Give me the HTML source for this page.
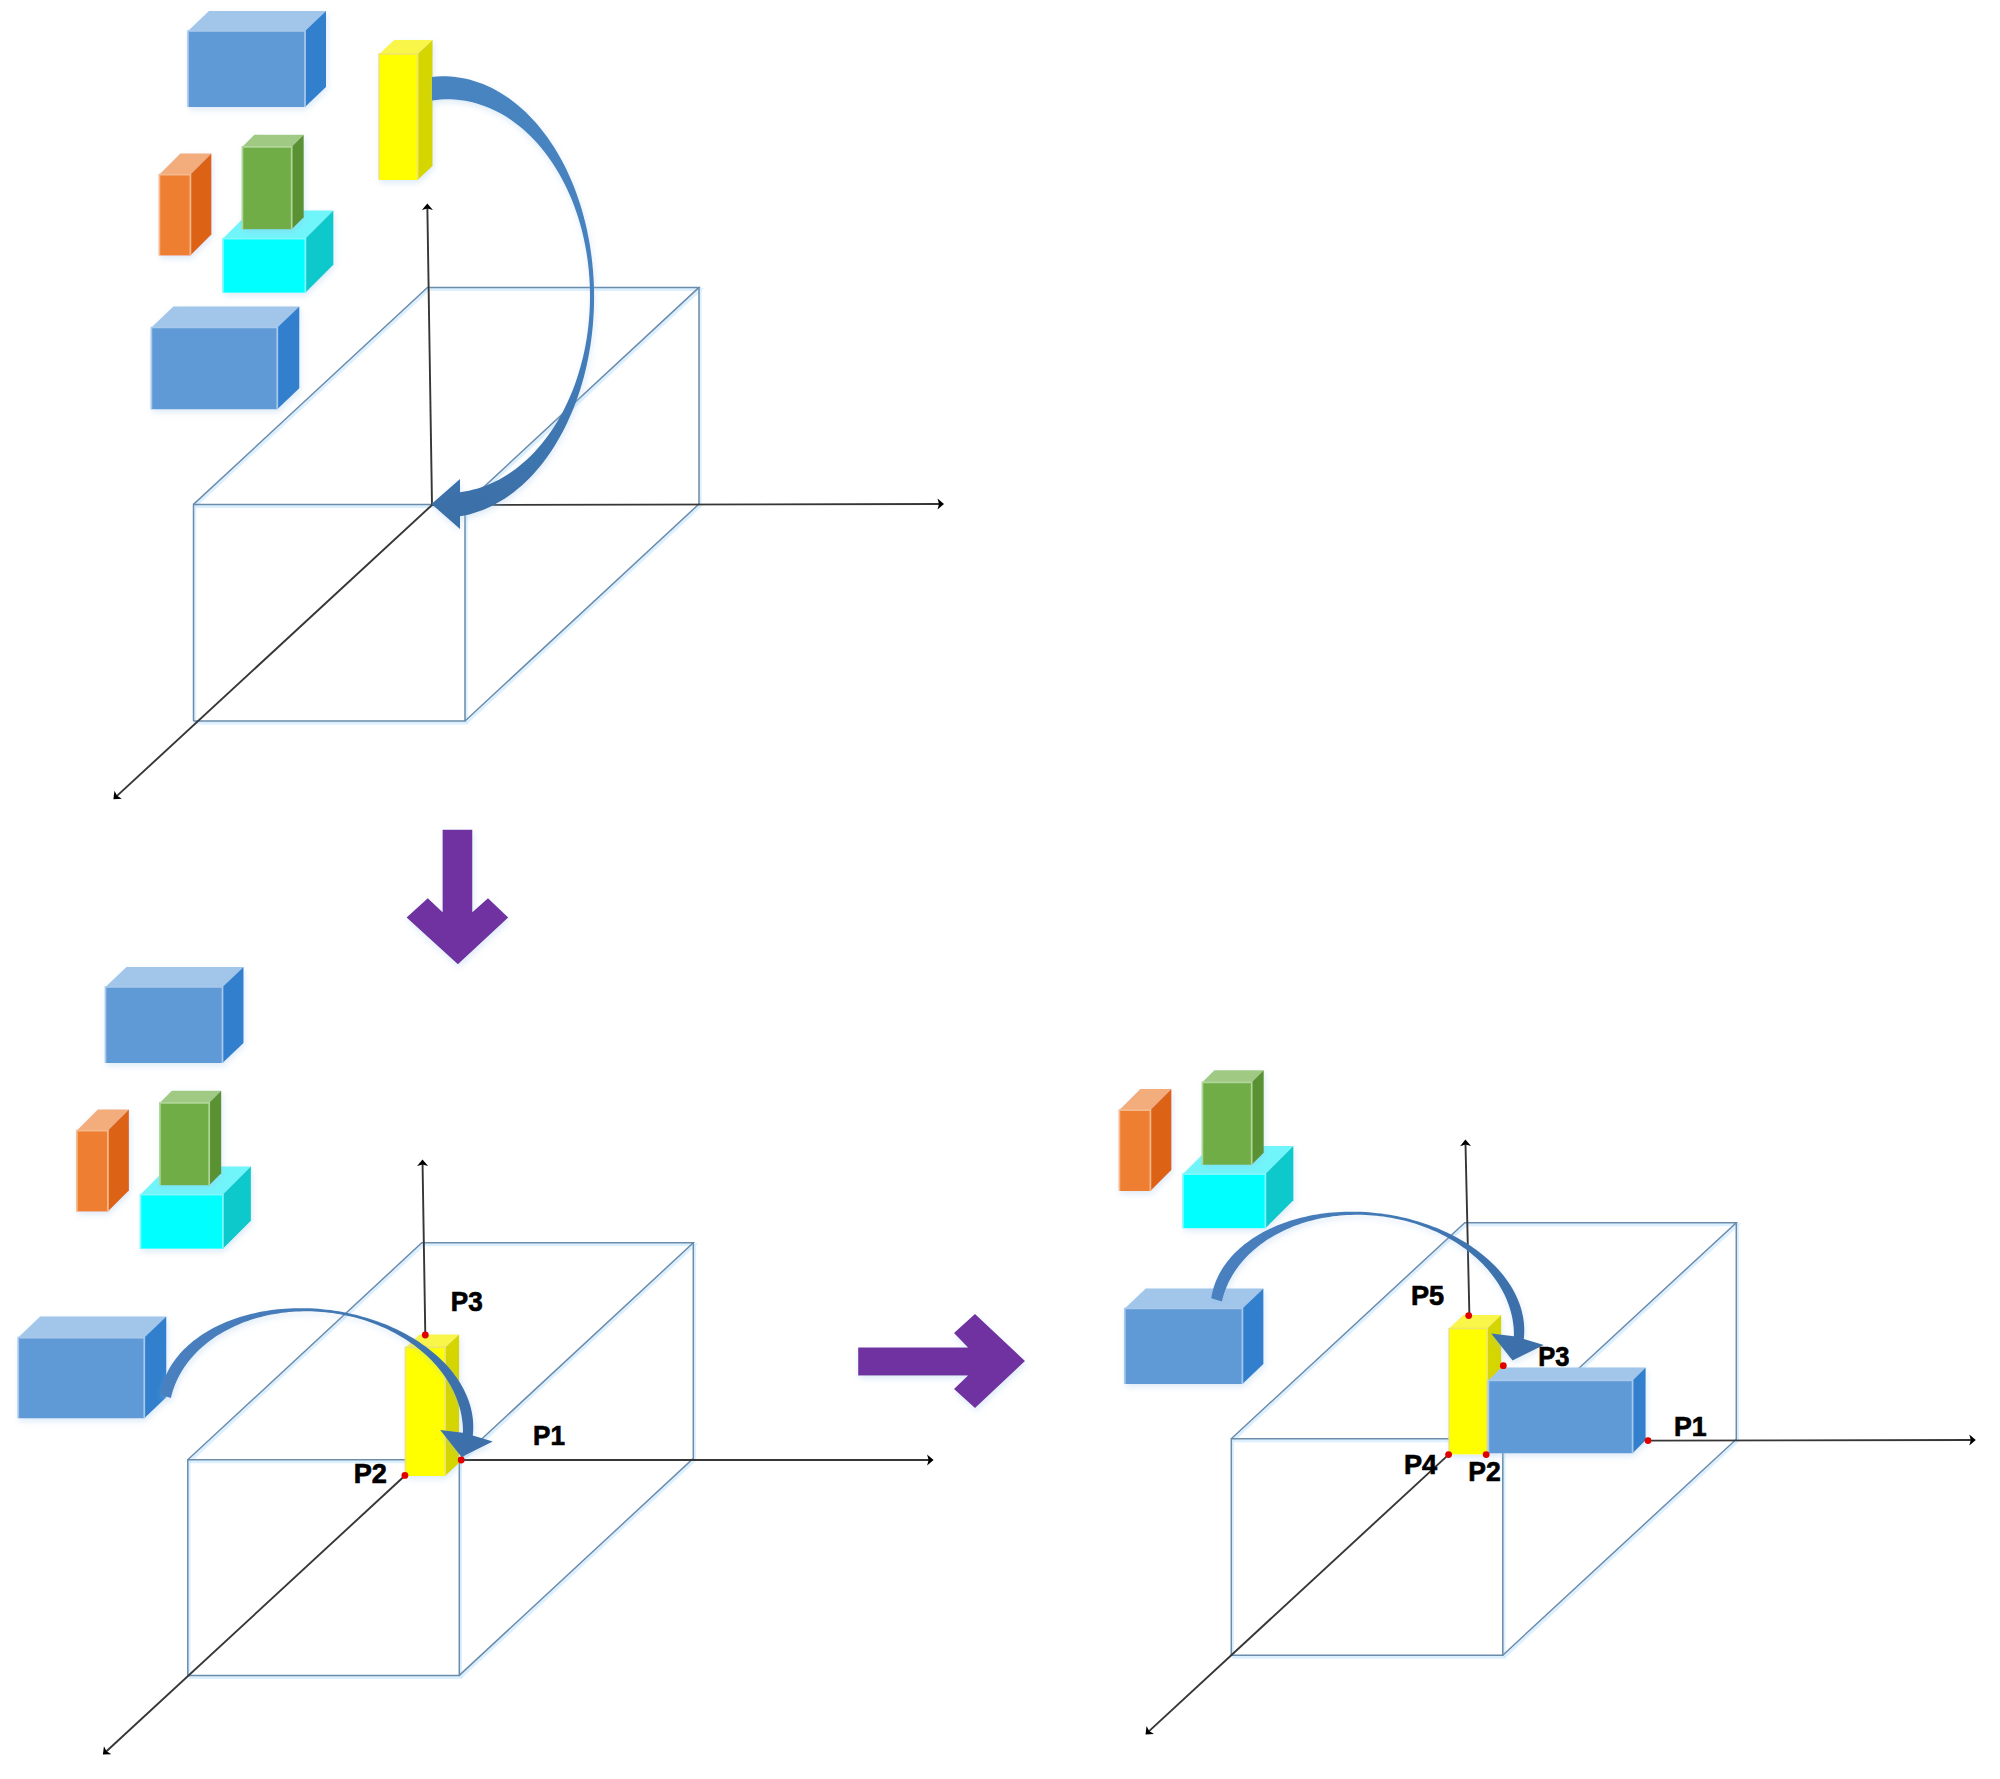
<!DOCTYPE html><html><head><meta charset="utf-8"><style>html,body{margin:0;padding:0;background:#fff;}svg{display:block;}</style></head><body>
<svg width="2000" height="1779" viewBox="0 0 2000 1779">
<defs>
<filter id="sh" x="-20%" y="-20%" width="140%" height="140%">
<feGaussianBlur in="SourceAlpha" stdDeviation="3"/>
<feOffset dx="1" dy="3" result="b"/>
<feFlood flood-color="#9cc3ea" flood-opacity="0.35"/>
<feComposite in2="b" operator="in"/>
<feMerge><feMergeNode/><feMergeNode in="SourceGraphic"/></feMerge>
</filter>
<linearGradient id="gArrTop" x1="0" y1="0" x2="0" y2="1">
<stop offset="0" stop-color="#4784c0"/><stop offset="0.55" stop-color="#4580bd"/><stop offset="1" stop-color="#3a6ea6"/>
</linearGradient>
<linearGradient id="gArrBL" x1="0" y1="0" x2="1" y2="0">
<stop offset="0" stop-color="#4a80bf"/><stop offset="0.6" stop-color="#4178b4"/><stop offset="1" stop-color="#3b6ea8"/>
</linearGradient>
</defs>
<rect width="2000" height="1779" fill="#fff"/>
<g filter="url(#sh)">
<polygon points="188,31 305,31 305,107 188,107" fill="#5e9ad6"/>
<polygon points="188,31 209,11 326,11 305,31" fill="#a2c5ea"/>
<polygon points="305,31 326,11 326,87 305,107" fill="#3380cd"/>
</g>
<polyline points="188,107 188,31 305,31 305,107" fill="none" stroke="#a9c9ec" stroke-width="1.7"/>
<g filter="url(#sh)">
<polygon points="159.4,174.6 190.4,174.6 190.4,255.4 159.4,255.4" fill="#ee7e30"/>
<polygon points="159.4,174.6 180.4,153.6 211.4,153.6 190.4,174.6" fill="#f3ad7c"/>
<polygon points="190.4,174.6 211.4,153.6 211.4,234.4 190.4,255.4" fill="#dc6419"/>
</g>
<polyline points="159.4,255.4 159.4,174.6 190.4,174.6 190.4,255.4" fill="none" stroke="#f6b98e" stroke-width="1.7"/>
<g filter="url(#sh)">
<polygon points="223,238.6 305.4,238.6 305.4,292.7 223,292.7" fill="#00ffff"/>
<polygon points="223,238.6 251,210.6 333.4,210.6 305.4,238.6" fill="#70f5fa"/>
<polygon points="305.4,238.6 333.4,210.6 333.4,264.7 305.4,292.7" fill="#07c9cb"/>
</g>
<polyline points="223,292.7 223,238.6 305.4,238.6 305.4,292.7" fill="none" stroke="#80f8fb" stroke-width="1.7"/>
<g filter="url(#sh)">
<polygon points="242.4,146.8 291.7,146.8 291.7,229.2 242.4,229.2" fill="#70ad47"/>
<polygon points="242.4,146.8 254.4,134.8 303.7,134.8 291.7,146.8" fill="#a0ca84"/>
<polygon points="291.7,146.8 303.7,134.8 303.7,217.2 291.7,229.2" fill="#5a9132"/>
</g>
<polyline points="242.4,229.2 242.4,146.8 291.7,146.8 291.7,229.2" fill="none" stroke="#b0d69a" stroke-width="1.7"/>
<g filter="url(#sh)">
<polygon points="151.4,327.5 277.3,327.5 277.3,409.2 151.4,409.2" fill="#5e9ad6"/>
<polygon points="151.4,327.5 173.4,306.5 299.3,306.5 277.3,327.5" fill="#a2c5ea"/>
<polygon points="277.3,327.5 299.3,306.5 299.3,388.2 277.3,409.2" fill="#3380cd"/>
</g>
<polyline points="151.4,409.2 151.4,327.5 277.3,327.5 277.3,409.2" fill="none" stroke="#a9c9ec" stroke-width="1.7"/>
<g filter="url(#sh)">
<polygon points="379.2,54 417.6,54 417.6,180 379.2,180" fill="#ffff00"/>
<polygon points="379.2,54 394.2,40 432.6,40 417.6,54" fill="#f9f54a"/>
<polygon points="417.6,54 432.6,40 432.6,166 417.6,180" fill="#d5d500"/>
</g>
<polyline points="379.2,180 379.2,54 417.6,54 417.6,180" fill="none" stroke="#f0e66a" stroke-width="1.7"/>
<polyline points="193.5,721 193.5,504.4 465,504.4 465,721 193.5,721" fill="none" stroke="#cdeaff" stroke-width="3" opacity="0.7" transform="translate(1.2,2)"/>
<polyline points="193.5,504.4 427.5,287.4 699,287.4 465,504.4" fill="none" stroke="#cdeaff" stroke-width="3" opacity="0.7" transform="translate(1.2,2)"/>
<polyline points="699,287.4 699,504 465,721" fill="none" stroke="#cdeaff" stroke-width="3" opacity="0.7" transform="translate(1.2,2)"/>
<polyline points="193.5,721 193.5,504.4 465,504.4 465,721 193.5,721" fill="none" stroke="#6b8cab" stroke-width="1.5"/>
<polyline points="193.5,504.4 427.5,287.4 699,287.4 465,504.4" fill="none" stroke="#6b8cab" stroke-width="1.5"/>
<polyline points="699,287.4 699,504 465,721" fill="none" stroke="#6b8cab" stroke-width="1.5"/>
<line x1="432" y1="505" x2="427.37" y2="208" stroke="#363636" stroke-width="1.9"/>
<polygon points="427.3,203.5 432.9,209.91 427.38,208.5 421.9,210.08" fill="#000"/>
<line x1="432" y1="505" x2="939.5" y2="504.01" stroke="#363636" stroke-width="1.9"/>
<polygon points="944,504 937.51,509.51 939,504.01 937.49,498.51" fill="#000"/>
<line x1="432" y1="505" x2="116.71" y2="796.15" stroke="#363636" stroke-width="1.9"/>
<polygon points="113.4,799.2 114.44,790.75 117.07,795.81 121.91,798.83" fill="#000"/>
<polygon points="432,76.92 436.67,76.51 441.36,76.32 446.04,76.34 450.72,76.57 455.39,77.01 460.05,77.67 464.7,78.53 469.32,79.61 473.92,80.9 478.49,82.39 483.03,84.1 487.53,86.01 491.98,88.12 496.39,90.43 500.75,92.94 505.05,95.65 509.29,98.56 513.47,101.65 517.58,104.93 521.62,108.4 525.59,112.05 529.47,115.88 533.27,119.88 536.99,124.06 540.61,128.4 544.14,132.9 547.57,137.56 550.91,142.38 554.13,147.34 557.26,152.45 560.27,157.7 563.17,163.08 565.95,168.6 568.62,174.23 571.16,179.99 573.58,185.85 575.88,191.83 578.04,197.9 580.08,204.07 581.99,210.33 583.76,216.68 585.39,223.1 586.89,229.59 588.26,236.15 589.48,242.77 590.56,249.44 591.49,256.15 592.29,262.91 592.94,269.69 593.45,276.51 593.81,283.34 594.03,290.19 594.1,297.04 594.03,303.89 593.81,310.74 593.44,317.57 592.93,324.39 592.28,331.17 591.48,337.93 590.54,344.64 589.46,351.31 588.24,357.93 586.88,364.48 585.38,370.98 583.74,377.4 581.97,383.74 580.06,390 578.02,396.17 575.85,402.24 573.55,408.22 571.13,414.08 568.58,419.83 565.92,425.47 563.13,430.98 560.23,436.36 557.22,441.61 554.1,446.71 550.87,451.68 547.53,456.49 544.1,461.15 540.57,465.65 536.94,469.99 533.23,474.16 529.43,478.17 525.54,481.99 521.58,485.64 517.54,489.11 513.42,492.39 509.24,495.48 505,498.38 500.7,501.09 496.34,503.6 491.93,505.91 487.48,508.02 482.98,509.92 478.44,511.62 473.87,513.12 469.27,514.4 464.65,515.48 460,516.34 460,529 431.5,504 460,479 460,492.14 464.48,491.5 468.95,490.66 473.39,489.62 477.81,488.4 482.2,486.98 486.55,485.37 490.87,483.57 495.14,481.58 499.36,479.41 503.53,477.05 507.65,474.51 511.7,471.8 515.69,468.9 519.61,465.84 523.46,462.6 527.24,459.2 530.93,455.64 534.55,451.92 538.07,448.04 541.5,444.01 544.84,439.83 548.09,435.5 551.23,431.04 554.26,426.44 557.2,421.72 560.02,416.86 562.73,411.89 565.32,406.8 567.8,401.6 570.15,396.29 572.38,390.88 574.49,385.38 576.47,379.79 578.32,374.12 580.04,368.37 581.63,362.54 583.09,356.65 584.41,350.7 585.59,344.69 586.63,338.64 587.54,332.54 588.3,326.41 588.92,320.24 589.41,314.05 589.75,307.85 589.94,301.63 590,295.41 589.91,289.18 589.68,282.97 589.31,276.76 588.8,270.58 588.14,264.42 587.35,258.3 586.41,252.21 585.34,246.16 584.12,240.17 582.77,234.23 581.29,228.35 579.67,222.54 577.92,216.81 576.04,211.15 574.03,205.58 571.9,200.1 569.64,194.72 567.25,189.43 564.75,184.26 562.13,179.19 559.4,174.24 556.55,169.42 553.6,164.72 550.53,160.15 547.37,155.72 544.11,151.43 540.75,147.28 537.29,143.28 533.75,139.44 530.12,135.75 526.4,132.22 522.61,128.86 518.75,125.66 514.81,122.64 510.8,119.78 506.73,117.11 502.6,114.61 498.42,112.29 494.19,110.16 489.91,108.22 485.58,106.46 481.22,104.89 476.83,103.51 472.4,102.33 467.95,101.34 463.48,100.54 459,99.94 454.5,99.54 450,99.33 445.49,99.32 440.99,99.51 436.49,99.89 432,100.47" fill="url(#gArrTop)" filter="url(#sh)"/>
<polygon points="442.6,829.7 472.3,829.7 472.3,912.2 488,898.2 508.2,917.6 457.9,964.3 406.6,917.6 427.8,898.2 442.6,912.2" fill="#7030a0" filter="url(#sh)"/>
<g filter="url(#sh)">
<polygon points="105.5,987 222.5,987 222.5,1063 105.5,1063" fill="#5e9ad6"/>
<polygon points="105.5,987 126.5,967 243.5,967 222.5,987" fill="#a2c5ea"/>
<polygon points="222.5,987 243.5,967 243.5,1043 222.5,1063" fill="#3380cd"/>
</g>
<polyline points="105.5,1063 105.5,987 222.5,987 222.5,1063" fill="none" stroke="#a9c9ec" stroke-width="1.7"/>
<g filter="url(#sh)">
<polygon points="76.9,1130.6 107.9,1130.6 107.9,1211.4 76.9,1211.4" fill="#ee7e30"/>
<polygon points="76.9,1130.6 97.9,1109.6 128.9,1109.6 107.9,1130.6" fill="#f3ad7c"/>
<polygon points="107.9,1130.6 128.9,1109.6 128.9,1190.4 107.9,1211.4" fill="#dc6419"/>
</g>
<polyline points="76.9,1211.4 76.9,1130.6 107.9,1130.6 107.9,1211.4" fill="none" stroke="#f6b98e" stroke-width="1.7"/>
<g filter="url(#sh)">
<polygon points="140.5,1194.6 222.9,1194.6 222.9,1248.7 140.5,1248.7" fill="#00ffff"/>
<polygon points="140.5,1194.6 168.5,1166.6 250.9,1166.6 222.9,1194.6" fill="#70f5fa"/>
<polygon points="222.9,1194.6 250.9,1166.6 250.9,1220.7 222.9,1248.7" fill="#07c9cb"/>
</g>
<polyline points="140.5,1248.7 140.5,1194.6 222.9,1194.6 222.9,1248.7" fill="none" stroke="#80f8fb" stroke-width="1.7"/>
<g filter="url(#sh)">
<polygon points="159.9,1102.8 209.2,1102.8 209.2,1185.2 159.9,1185.2" fill="#70ad47"/>
<polygon points="159.9,1102.8 171.9,1090.8 221.2,1090.8 209.2,1102.8" fill="#a0ca84"/>
<polygon points="209.2,1102.8 221.2,1090.8 221.2,1173.2 209.2,1185.2" fill="#5a9132"/>
</g>
<polyline points="159.9,1185.2 159.9,1102.8 209.2,1102.8 209.2,1185.2" fill="none" stroke="#b0d69a" stroke-width="1.7"/>
<g filter="url(#sh)">
<polygon points="18.2,1337.6 144.3,1337.6 144.3,1418.2 18.2,1418.2" fill="#5e9ad6"/>
<polygon points="18.2,1337.6 40.2,1316.6 166.3,1316.6 144.3,1337.6" fill="#a2c5ea"/>
<polygon points="144.3,1337.6 166.3,1316.6 166.3,1397.2 144.3,1418.2" fill="#3380cd"/>
</g>
<polyline points="18.2,1418.2 18.2,1337.6 144.3,1337.6 144.3,1418.2" fill="none" stroke="#a9c9ec" stroke-width="1.7"/>
<polyline points="187.8,1675.4 187.8,1459.8 459.3,1459.8 459.3,1675.4 187.8,1675.4" fill="none" stroke="#cdeaff" stroke-width="3" opacity="0.7" transform="translate(1.2,2)"/>
<polyline points="187.8,1459.8 421.8,1242.8 693.3,1242.8 459.3,1459.8" fill="none" stroke="#cdeaff" stroke-width="3" opacity="0.7" transform="translate(1.2,2)"/>
<polyline points="693.3,1242.8 693.3,1458.4 459.3,1675.4" fill="none" stroke="#cdeaff" stroke-width="3" opacity="0.7" transform="translate(1.2,2)"/>
<polyline points="187.8,1675.4 187.8,1459.8 459.3,1459.8 459.3,1675.4 187.8,1675.4" fill="none" stroke="#6b8cab" stroke-width="1.5"/>
<polyline points="187.8,1459.8 421.8,1242.8 693.3,1242.8 459.3,1459.8" fill="none" stroke="#6b8cab" stroke-width="1.5"/>
<polyline points="693.3,1242.8 693.3,1458.4 459.3,1675.4" fill="none" stroke="#6b8cab" stroke-width="1.5"/>
<line x1="425.3" y1="1335" x2="422.57" y2="1164" stroke="#363636" stroke-width="1.9"/>
<polygon points="422.5,1159.5 428.1,1165.91 422.58,1164.5 417.1,1166.09" fill="#000"/>
<line x1="461" y1="1460" x2="929.1" y2="1460" stroke="#363636" stroke-width="1.9"/>
<polygon points="933.6,1460 927.1,1465.5 928.6,1460 927.1,1454.5" fill="#000"/>
<line x1="404.5" y1="1476" x2="106.21" y2="1751.55" stroke="#363636" stroke-width="1.9"/>
<polygon points="102.9,1754.6 103.94,1746.15 106.57,1751.21 111.41,1754.23" fill="#000"/>
<g filter="url(#sh)">
<polygon points="405.5,1347.4 445.1,1347.4 445.1,1476 405.5,1476" fill="#ffff00"/>
<polygon points="405.5,1347.4 419.5,1334.4 459.1,1334.4 445.1,1347.4" fill="#f9f54a"/>
<polygon points="445.1,1347.4 459.1,1334.4 459.1,1463 445.1,1476" fill="#d5d500"/>
</g>
<polyline points="405.5,1476 405.5,1347.4 445.1,1347.4 445.1,1476" fill="none" stroke="#f0e66a" stroke-width="1.7"/>
<polygon points="160.24,1394.83 160.69,1392.08 161.26,1389.35 161.92,1386.64 162.69,1383.95 163.57,1381.27 164.54,1378.62 165.62,1376 166.81,1373.41 168.09,1370.84 169.48,1368.3 170.96,1365.8 172.54,1363.33 174.22,1360.9 176,1358.5 177.87,1356.15 179.84,1353.83 181.89,1351.55 184.04,1349.32 186.28,1347.14 188.61,1345 191.02,1342.91 193.52,1340.87 196.1,1338.88 198.77,1336.95 201.51,1335.06 204.33,1333.23 207.23,1331.46 210.2,1329.75 213.24,1328.09 216.35,1326.49 219.53,1324.96 222.78,1323.49 226.08,1322.07 229.45,1320.73 232.88,1319.44 236.37,1318.23 239.91,1317.08 243.5,1315.99 247.14,1314.98 250.83,1314.03 254.56,1313.15 258.34,1312.34 262.15,1311.61 266,1310.94 269.88,1310.34 273.8,1309.82 277.74,1309.37 281.72,1308.99 285.71,1308.68 289.73,1308.45 293.76,1308.29 297.81,1308.2 301.87,1308.18 305.94,1308.24 310.02,1308.37 314.1,1308.58 318.18,1308.86 322.27,1309.21 326.34,1309.63 330.42,1310.12 334.48,1310.69 338.53,1311.33 342.56,1312.04 346.58,1312.82 350.58,1313.67 354.55,1314.59 358.5,1315.58 362.42,1316.63 366.31,1317.76 370.16,1318.95 373.98,1320.2 377.76,1321.52 381.5,1322.91 385.19,1324.36 388.84,1325.87 392.43,1327.44 395.98,1329.07 399.47,1330.76 402.91,1332.51 406.28,1334.32 409.6,1336.18 412.85,1338.1 416.04,1340.06 419.16,1342.08 422.21,1344.15 425.19,1346.27 428.1,1348.44 430.93,1350.65 433.68,1352.91 436.35,1355.21 438.94,1357.55 441.45,1359.93 443.87,1362.35 446.21,1364.8 448.46,1367.29 450.62,1369.81 452.69,1372.37 454.66,1374.95 456.55,1377.57 458.33,1380.2 460.03,1382.87 461.62,1385.55 463.12,1388.26 464.51,1390.98 465.81,1393.72 467,1396.48 468.1,1399.25 469.09,1402.03 469.97,1404.82 470.75,1407.62 471.43,1410.43 472.01,1413.24 472.47,1416.05 472.83,1418.86 473.09,1421.67 473.24,1424.47 473.28,1427.27 473.22,1430.07 473.05,1432.85 472.78,1435.62 492.8,1441.5 461.5,1456.9 440.2,1430.1 462.93,1432.68 462.92,1429.88 462.82,1427.08 462.63,1424.27 462.35,1421.47 461.98,1418.66 461.52,1415.86 460.97,1413.07 460.33,1410.28 459.6,1407.5 458.78,1404.73 457.87,1401.97 456.88,1399.23 455.8,1396.5 454.63,1393.79 453.37,1391.1 452.04,1388.42 450.61,1385.77 449.11,1383.15 447.52,1380.55 445.85,1377.97 444.1,1375.43 442.27,1372.91 440.36,1370.43 438.38,1367.98 436.32,1365.56 434.18,1363.18 431.97,1360.84 429.69,1358.54 427.34,1356.27 424.93,1354.05 422.44,1351.88 419.89,1349.74 417.27,1347.66 414.59,1345.62 411.85,1343.63 409.05,1341.69 406.2,1339.8 403.29,1337.96 400.32,1336.17 397.3,1334.44 394.23,1332.77 391.11,1331.15 387.95,1329.59 384.74,1328.09 381.49,1326.64 378.2,1325.26 374.87,1323.94 371.5,1322.68 368.1,1321.48 364.67,1320.35 361.21,1319.28 357.72,1318.27 354.2,1317.33 350.66,1316.46 347.1,1315.65 343.52,1314.91 339.92,1314.24 336.3,1313.64 332.68,1313.1 329.04,1312.63 325.4,1312.24 321.75,1311.91 318.09,1311.65 314.44,1311.46 310.78,1311.33 307.13,1311.28 303.49,1311.3 299.85,1311.39 296.22,1311.55 292.6,1311.78 289,1312.07 285.42,1312.44 281.85,1312.87 278.31,1313.38 274.78,1313.95 271.29,1314.59 267.82,1315.3 264.38,1316.07 260.97,1316.92 257.6,1317.82 254.26,1318.8 250.96,1319.84 247.7,1320.94 244.48,1322.11 241.31,1323.34 238.18,1324.63 235.1,1325.99 232.07,1327.4 229.1,1328.88 226.17,1330.41 223.3,1332 220.49,1333.65 217.74,1335.35 215.05,1337.11 212.42,1338.93 209.85,1340.79 207.35,1342.71 204.92,1344.68 202.56,1346.69 200.26,1348.76 198.04,1350.87 195.89,1353.03 193.81,1355.23 191.81,1357.47 189.89,1359.75 188.04,1362.08 186.28,1364.44 184.59,1366.84 182.98,1369.27 181.46,1371.74 180.02,1374.24 178.66,1376.77 177.39,1379.34 176.2,1381.92 175.1,1384.54 174.09,1387.18 173.16,1389.84 172.33,1392.52 171.58,1395.23 170.92,1397.95" fill="url(#gArrBL)" filter="url(#sh)"/>
<circle cx="425.3" cy="1335" r="3.4" fill="#e00000"/>
<circle cx="461.2" cy="1460" r="3.4" fill="#e00000"/>
<circle cx="404.9" cy="1475.4" r="3.4" fill="#e00000"/>
<text x="450.8" y="1310.9" textLength="31.9" lengthAdjust="spacingAndGlyphs" font-family="Liberation Sans" font-weight="bold" font-size="28" fill="#000" stroke="#000" stroke-width="0.7">P3</text>
<text x="533" y="1445.1" textLength="31.9" lengthAdjust="spacingAndGlyphs" font-family="Liberation Sans" font-weight="bold" font-size="28" fill="#000" stroke="#000" stroke-width="0.7">P1</text>
<text x="353.7" y="1483.4" textLength="33.2" lengthAdjust="spacingAndGlyphs" font-family="Liberation Sans" font-weight="bold" font-size="28" fill="#000" stroke="#000" stroke-width="0.7">P2</text>
<polygon points="858.2,1347.5 968,1347.5 954,1333 975,1314 1025,1361 975,1408 954,1389 968,1375.5 858.2,1375.5" fill="#7030a0" filter="url(#sh)"/>
<g filter="url(#sh)">
<polygon points="1119.4,1110.1 1150.4,1110.1 1150.4,1190.9 1119.4,1190.9" fill="#ee7e30"/>
<polygon points="1119.4,1110.1 1140.4,1089.1 1171.4,1089.1 1150.4,1110.1" fill="#f3ad7c"/>
<polygon points="1150.4,1110.1 1171.4,1089.1 1171.4,1169.9 1150.4,1190.9" fill="#dc6419"/>
</g>
<polyline points="1119.4,1190.9 1119.4,1110.1 1150.4,1110.1 1150.4,1190.9" fill="none" stroke="#f6b98e" stroke-width="1.7"/>
<g filter="url(#sh)">
<polygon points="1183,1174.1 1265.4,1174.1 1265.4,1228.2 1183,1228.2" fill="#00ffff"/>
<polygon points="1183,1174.1 1211,1146.1 1293.4,1146.1 1265.4,1174.1" fill="#70f5fa"/>
<polygon points="1265.4,1174.1 1293.4,1146.1 1293.4,1200.2 1265.4,1228.2" fill="#07c9cb"/>
</g>
<polyline points="1183,1228.2 1183,1174.1 1265.4,1174.1 1265.4,1228.2" fill="none" stroke="#80f8fb" stroke-width="1.7"/>
<g filter="url(#sh)">
<polygon points="1202.4,1082.3 1251.7,1082.3 1251.7,1164.7 1202.4,1164.7" fill="#70ad47"/>
<polygon points="1202.4,1082.3 1214.4,1070.3 1263.7,1070.3 1251.7,1082.3" fill="#a0ca84"/>
<polygon points="1251.7,1082.3 1263.7,1070.3 1263.7,1152.7 1251.7,1164.7" fill="#5a9132"/>
</g>
<polyline points="1202.4,1164.7 1202.4,1082.3 1251.7,1082.3 1251.7,1164.7" fill="none" stroke="#b0d69a" stroke-width="1.7"/>
<g filter="url(#sh)">
<polygon points="1124.8,1308.5 1242.4,1308.5 1242.4,1384 1124.8,1384" fill="#5e9ad6"/>
<polygon points="1124.8,1308.5 1145.8,1288.5 1263.4,1288.5 1242.4,1308.5" fill="#a2c5ea"/>
<polygon points="1242.4,1308.5 1263.4,1288.5 1263.4,1364 1242.4,1384" fill="#3380cd"/>
</g>
<polyline points="1124.8,1384 1124.8,1308.5 1242.4,1308.5 1242.4,1384" fill="none" stroke="#a9c9ec" stroke-width="1.7"/>
<polyline points="1231.3,1655.2 1231.3,1438.7 1502.8,1438.7 1502.8,1655.2 1231.3,1655.2" fill="none" stroke="#cdeaff" stroke-width="3" opacity="0.7" transform="translate(1.2,2)"/>
<polyline points="1231.3,1438.7 1464.8,1222.7 1736.3,1222.7 1502.8,1438.7" fill="none" stroke="#cdeaff" stroke-width="3" opacity="0.7" transform="translate(1.2,2)"/>
<polyline points="1736.3,1222.7 1736.3,1439.2 1502.8,1655.2" fill="none" stroke="#cdeaff" stroke-width="3" opacity="0.7" transform="translate(1.2,2)"/>
<polyline points="1231.3,1655.2 1231.3,1438.7 1502.8,1438.7 1502.8,1655.2 1231.3,1655.2" fill="none" stroke="#6b8cab" stroke-width="1.5"/>
<polyline points="1231.3,1438.7 1464.8,1222.7 1736.3,1222.7 1502.8,1438.7" fill="none" stroke="#6b8cab" stroke-width="1.5"/>
<polyline points="1736.3,1222.7 1736.3,1439.2 1502.8,1655.2" fill="none" stroke="#6b8cab" stroke-width="1.5"/>
<line x1="1469.4" y1="1315.5" x2="1465.5" y2="1144.1" stroke="#363636" stroke-width="1.9"/>
<polygon points="1465.4,1139.6 1471.05,1145.97 1465.51,1144.6 1460.05,1146.22" fill="#000"/>
<line x1="1648" y1="1440.6" x2="1971.3" y2="1440.01" stroke="#363636" stroke-width="1.9"/>
<polygon points="1975.8,1440 1969.31,1445.51 1970.8,1440.01 1969.29,1434.51" fill="#000"/>
<line x1="1448.6" y1="1454.6" x2="1148.81" y2="1731.35" stroke="#363636" stroke-width="1.9"/>
<polygon points="1145.5,1734.4 1146.55,1725.95 1149.17,1731.01 1154.01,1734.03" fill="#000"/>
<g filter="url(#sh)">
<polygon points="1449.2,1328.5 1487.2,1328.5 1487.2,1454.6 1449.2,1454.6" fill="#ffff00"/>
<polygon points="1449.2,1328.5 1463.2,1315 1501.2,1315 1487.2,1328.5" fill="#f9f54a"/>
<polygon points="1487.2,1328.5 1501.2,1315 1501.2,1441.1 1487.2,1454.6" fill="#d5d500"/>
</g>
<polyline points="1449.2,1454.6 1449.2,1328.5 1487.2,1328.5 1487.2,1454.6" fill="none" stroke="#f0e66a" stroke-width="1.7"/>
<g filter="url(#sh)">
<polygon points="1488.4,1380.4 1632.6,1380.4 1632.6,1453.2 1488.4,1453.2" fill="#5e9ad6"/>
<polygon points="1488.4,1380.4 1501.4,1367.4 1645.6,1367.4 1632.6,1380.4" fill="#a2c5ea"/>
<polygon points="1632.6,1380.4 1645.6,1367.4 1645.6,1440.2 1632.6,1453.2" fill="#3380cd"/>
</g>
<polyline points="1488.4,1453.2 1488.4,1380.4 1632.6,1380.4 1632.6,1453.2" fill="none" stroke="#a9c9ec" stroke-width="1.7"/>
<polygon points="1211.24,1298.33 1211.69,1295.58 1212.26,1292.85 1212.92,1290.14 1213.69,1287.45 1214.57,1284.77 1215.54,1282.12 1216.62,1279.5 1217.81,1276.91 1219.09,1274.34 1220.48,1271.8 1221.96,1269.3 1223.54,1266.83 1225.22,1264.4 1227,1262 1228.87,1259.65 1230.84,1257.33 1232.89,1255.05 1235.04,1252.82 1237.28,1250.64 1239.61,1248.5 1242.02,1246.41 1244.52,1244.37 1247.1,1242.38 1249.77,1240.45 1252.51,1238.56 1255.33,1236.73 1258.23,1234.96 1261.2,1233.25 1264.24,1231.59 1267.35,1229.99 1270.53,1228.46 1273.78,1226.99 1277.08,1225.57 1280.45,1224.23 1283.88,1222.94 1287.37,1221.73 1290.91,1220.58 1294.5,1219.49 1298.14,1218.48 1301.83,1217.53 1305.56,1216.65 1309.34,1215.84 1313.15,1215.11 1317,1214.44 1320.88,1213.84 1324.8,1213.32 1328.74,1212.87 1332.72,1212.49 1336.71,1212.18 1340.73,1211.95 1344.76,1211.79 1348.81,1211.7 1352.87,1211.68 1356.94,1211.74 1361.02,1211.87 1365.1,1212.08 1369.18,1212.36 1373.27,1212.71 1377.34,1213.13 1381.42,1213.62 1385.48,1214.19 1389.53,1214.83 1393.56,1215.54 1397.58,1216.32 1401.58,1217.17 1405.55,1218.09 1409.5,1219.08 1413.42,1220.13 1417.31,1221.26 1421.16,1222.45 1424.98,1223.7 1428.76,1225.02 1432.5,1226.41 1436.19,1227.86 1439.84,1229.37 1443.43,1230.94 1446.98,1232.57 1450.47,1234.26 1453.91,1236.01 1457.28,1237.82 1460.6,1239.68 1463.85,1241.6 1467.04,1243.56 1470.16,1245.58 1473.21,1247.65 1476.19,1249.77 1479.1,1251.94 1481.93,1254.15 1484.68,1256.41 1487.35,1258.71 1489.94,1261.05 1492.45,1263.43 1494.87,1265.85 1497.21,1268.3 1499.46,1270.79 1501.62,1273.31 1503.69,1275.87 1505.66,1278.45 1507.55,1281.07 1509.33,1283.7 1511.03,1286.37 1512.62,1289.05 1514.12,1291.76 1515.51,1294.48 1516.81,1297.22 1518,1299.98 1519.1,1302.75 1520.09,1305.53 1520.97,1308.32 1521.75,1311.12 1522.43,1313.93 1523.01,1316.74 1523.47,1319.55 1523.83,1322.36 1524.09,1325.17 1524.24,1327.97 1524.28,1330.77 1524.22,1333.57 1524.05,1336.35 1523.78,1339.12 1543.8,1345 1512.5,1360.4 1491.2,1333.6 1513.93,1336.18 1513.92,1333.38 1513.82,1330.58 1513.63,1327.77 1513.35,1324.97 1512.98,1322.16 1512.52,1319.36 1511.97,1316.57 1511.33,1313.78 1510.6,1311 1509.78,1308.23 1508.87,1305.47 1507.88,1302.73 1506.8,1300 1505.63,1297.29 1504.37,1294.6 1503.04,1291.92 1501.61,1289.27 1500.11,1286.65 1498.52,1284.05 1496.85,1281.47 1495.1,1278.93 1493.27,1276.41 1491.36,1273.93 1489.38,1271.48 1487.32,1269.06 1485.18,1266.68 1482.97,1264.34 1480.69,1262.04 1478.34,1259.77 1475.93,1257.55 1473.44,1255.38 1470.89,1253.24 1468.27,1251.16 1465.59,1249.12 1462.85,1247.13 1460.05,1245.19 1457.2,1243.3 1454.29,1241.46 1451.32,1239.67 1448.3,1237.94 1445.23,1236.27 1442.11,1234.65 1438.95,1233.09 1435.74,1231.59 1432.49,1230.14 1429.2,1228.76 1425.87,1227.44 1422.5,1226.18 1419.1,1224.98 1415.67,1223.85 1412.21,1222.78 1408.72,1221.77 1405.2,1220.83 1401.66,1219.96 1398.1,1219.15 1394.52,1218.41 1390.92,1217.74 1387.3,1217.14 1383.68,1216.6 1380.04,1216.13 1376.4,1215.74 1372.75,1215.41 1369.09,1215.15 1365.44,1214.96 1361.78,1214.83 1358.13,1214.78 1354.49,1214.8 1350.85,1214.89 1347.22,1215.05 1343.6,1215.28 1340,1215.57 1336.42,1215.94 1332.85,1216.37 1329.31,1216.88 1325.78,1217.45 1322.29,1218.09 1318.82,1218.8 1315.38,1219.57 1311.97,1220.42 1308.6,1221.32 1305.26,1222.3 1301.96,1223.34 1298.7,1224.44 1295.48,1225.61 1292.31,1226.84 1289.18,1228.13 1286.1,1229.49 1283.07,1230.9 1280.1,1232.38 1277.17,1233.91 1274.3,1235.5 1271.49,1237.15 1268.74,1238.85 1266.05,1240.61 1263.42,1242.43 1260.85,1244.29 1258.35,1246.21 1255.92,1248.18 1253.56,1250.19 1251.26,1252.26 1249.04,1254.37 1246.89,1256.53 1244.81,1258.73 1242.81,1260.97 1240.89,1263.25 1239.04,1265.58 1237.28,1267.94 1235.59,1270.34 1233.98,1272.77 1232.46,1275.24 1231.02,1277.74 1229.66,1280.27 1228.39,1282.84 1227.2,1285.42 1226.1,1288.04 1225.09,1290.68 1224.16,1293.34 1223.33,1296.02 1222.58,1298.73 1221.92,1301.45" fill="url(#gArrBL)" filter="url(#sh)"/>
<circle cx="1468.7" cy="1315.6" r="3.4" fill="#e00000"/>
<circle cx="1503.3" cy="1365.7" r="3.4" fill="#e00000"/>
<circle cx="1648" cy="1440.6" r="3.4" fill="#e00000"/>
<circle cx="1448.6" cy="1454.6" r="3.4" fill="#e00000"/>
<circle cx="1486.2" cy="1454.6" r="3.4" fill="#e00000"/>
<text x="1410.9" y="1305.4" textLength="33.2" lengthAdjust="spacingAndGlyphs" font-family="Liberation Sans" font-weight="bold" font-size="28" fill="#000" stroke="#000" stroke-width="0.7">P5</text>
<text x="1538.3" y="1365.8" textLength="31.2" lengthAdjust="spacingAndGlyphs" font-family="Liberation Sans" font-weight="bold" font-size="28" fill="#000" stroke="#000" stroke-width="0.7">P3</text>
<text x="1674.1" y="1435.8" textLength="32.6" lengthAdjust="spacingAndGlyphs" font-family="Liberation Sans" font-weight="bold" font-size="28" fill="#000" stroke="#000" stroke-width="0.7">P1</text>
<text x="1403.9" y="1474.2" textLength="33.2" lengthAdjust="spacingAndGlyphs" font-family="Liberation Sans" font-weight="bold" font-size="28" fill="#000" stroke="#000" stroke-width="0.7">P4</text>
<text x="1468.3" y="1481.2" textLength="32.4" lengthAdjust="spacingAndGlyphs" font-family="Liberation Sans" font-weight="bold" font-size="28" fill="#000" stroke="#000" stroke-width="0.7">P2</text>
</svg></body></html>
